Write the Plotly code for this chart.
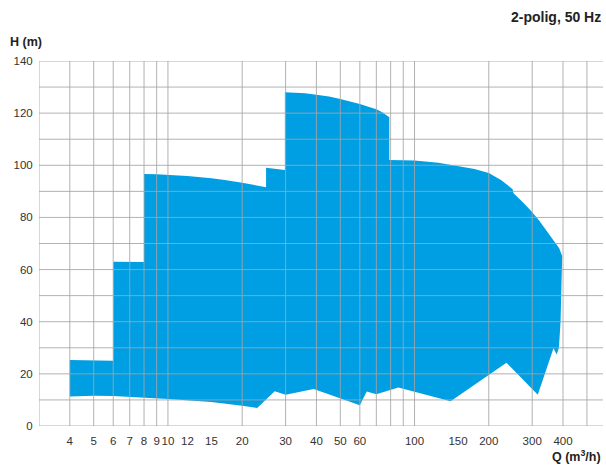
import math
import plotly.graph_objects as go

# Pump range envelope, 2-pole 50 Hz: flow Q (m3/h) vs head H (m).
# Outline traced clockwise: upper limit first, then the lower limit back.
q_outline = [
    4, 4, 6, 6, 8, 8, 9, 10, 12, 15, 17, 20, 22.5, 25, 25, 29.8,
    29.8, 33, 36, 40, 45, 50, 55, 60, 65, 70, 74, 79,
    79, 90, 100, 125, 150, 175, 200, 225, 250,
    252, 275, 299, 320, 342, 365, 386, 397,
    395, 391, 385, 377, 366, 316, 236, 140, 86, 70, 64, 60, 39, 30, 27.1,
    23, 20, 15, 10, 8, 6, 5, 4,
]
h_outline = [
    11.3, 25.3, 25.0, 63.0, 62.9, 96.7, 96.6, 96.4, 95.9, 95.0, 94.4, 93.3,
    92.5, 91.6, 99.1, 98.2,
    128.0, 127.9, 127.6, 127.1, 126.4, 125.4, 124.5, 123.5, 122.5, 121.5,
    120.3, 118.4,
    102.0, 102.0, 101.8, 101.0, 99.8, 98.6, 97.0, 94.3, 90.8,
    89.3, 85.8, 82.2, 78.8, 75.2, 71.5, 68.2, 65.2,
    52.0, 40.0, 30.0, 27.4, 29.8, 12.0, 24.3, 9.5, 14.8, 12.2, 13.2, 8.0,
    14.2, 12.0, 13.3, 6.9, 7.8, 9.2, 10.4, 11.0, 11.5, 11.6, 11.3,
]

# Axis ticks and grid
q_tick_vals = [4, 5, 6, 7, 8, 9, 10, 12, 15, 20, 30, 40, 50, 60, 100, 150, 200, 300, 400]
q_tick_text = [str(v) for v in q_tick_vals]
q_grid = [3, 4, 5, 6, 7, 8, 9, 10, 20, 30, 40, 50, 60, 70, 80, 90, 100, 200, 300, 400, 500]
h_tick_vals = [0, 20, 40, 60, 80, 100, 120, 140]
h_grid = list(range(0, 141, 10))

Q_MIN = 3
PX_PER_DECADE = 246.6
W, H = 606, 467
M_L, M_R, M_T, M_B = 39, 3, 61, 41
x_lo = math.log10(Q_MIN)
x_hi = x_lo + (W - M_L - M_R) / PX_PER_DECADE
q_max = 10 ** x_hi

FONT = "Liberation Sans, Arial, Helvetica, sans-serif"
BLUE = "#009FE3"
GRID = "rgba(165,165,165,0.85)"

fig = go.Figure()

fig.add_trace(go.Scatter(
    x=q_outline, y=h_outline, mode="lines", fill="toself",
    fillcolor=BLUE, line=dict(width=0, color=BLUE),
    hoverinfo="skip", showlegend=False,
))

# Grid lines drawn over the envelope
gx, gy = [], []
for q in q_grid:
    gx += [q, q, None]
    gy += [0, 140, None]
for h in h_grid:
    gx += [Q_MIN, q_max, None]
    gy += [h, h, None]
fig.add_trace(go.Scatter(
    x=gx, y=gy, mode="lines", line=dict(color=GRID, width=1),
    hoverinfo="skip", showlegend=False, cliponaxis=False,
))

fig.update_layout(
    width=W, height=H,
    margin=dict(l=M_L, r=M_R, t=M_T, b=M_B),
    paper_bgcolor="white", plot_bgcolor="white",
    font=dict(family=FONT, size=11.5, color="#333333"),
    xaxis=dict(
        type="log", range=[x_lo, x_hi], showgrid=False, zeroline=False,
        showline=False, tickvals=q_tick_vals, ticktext=q_tick_text,
        tickangle=0, automargin=False,
        ticks="outside", ticklen=4, tickcolor="rgba(0,0,0,0)",
        tickfont=dict(size=11.5, color="#333333"),
    ),
    yaxis=dict(
        range=[0, 140], showgrid=False, zeroline=False, showline=False,
        tickvals=h_tick_vals, ticks="outside", ticklen=3, automargin=False,
        tickcolor="rgba(0,0,0,0)", tickfont=dict(size=11.5, color="#333333"),
    ),
    annotations=[
        dict(text="<b>2-polig, 50 Hz</b>", xref="paper", yref="paper",
             x=1, y=1, xanchor="right", yanchor="middle",
             xshift=M_R - 3, yshift=M_T - 17,
             showarrow=False, font=dict(family=FONT, size=14, color="#222222")),
        dict(text="<b>H (m)</b>", xref="paper", yref="paper",
             x=0, y=1, xanchor="left", yanchor="middle",
             xshift=-M_L + 8, yshift=M_T - 42,
             showarrow=False, font=dict(family=FONT, size=12.5, color="#222222")),
        dict(text="<b>Q (m<sup>3</sup>/h)</b>", xref="paper", yref="paper",
             x=1, y=0, xanchor="right", yanchor="middle",
             xshift=M_R - 3, yshift=-(456 - (H - M_B)),
             showarrow=False, font=dict(family=FONT, size=12.5, color="#222222")),
    ],
)

fig.write_html("out.html")
